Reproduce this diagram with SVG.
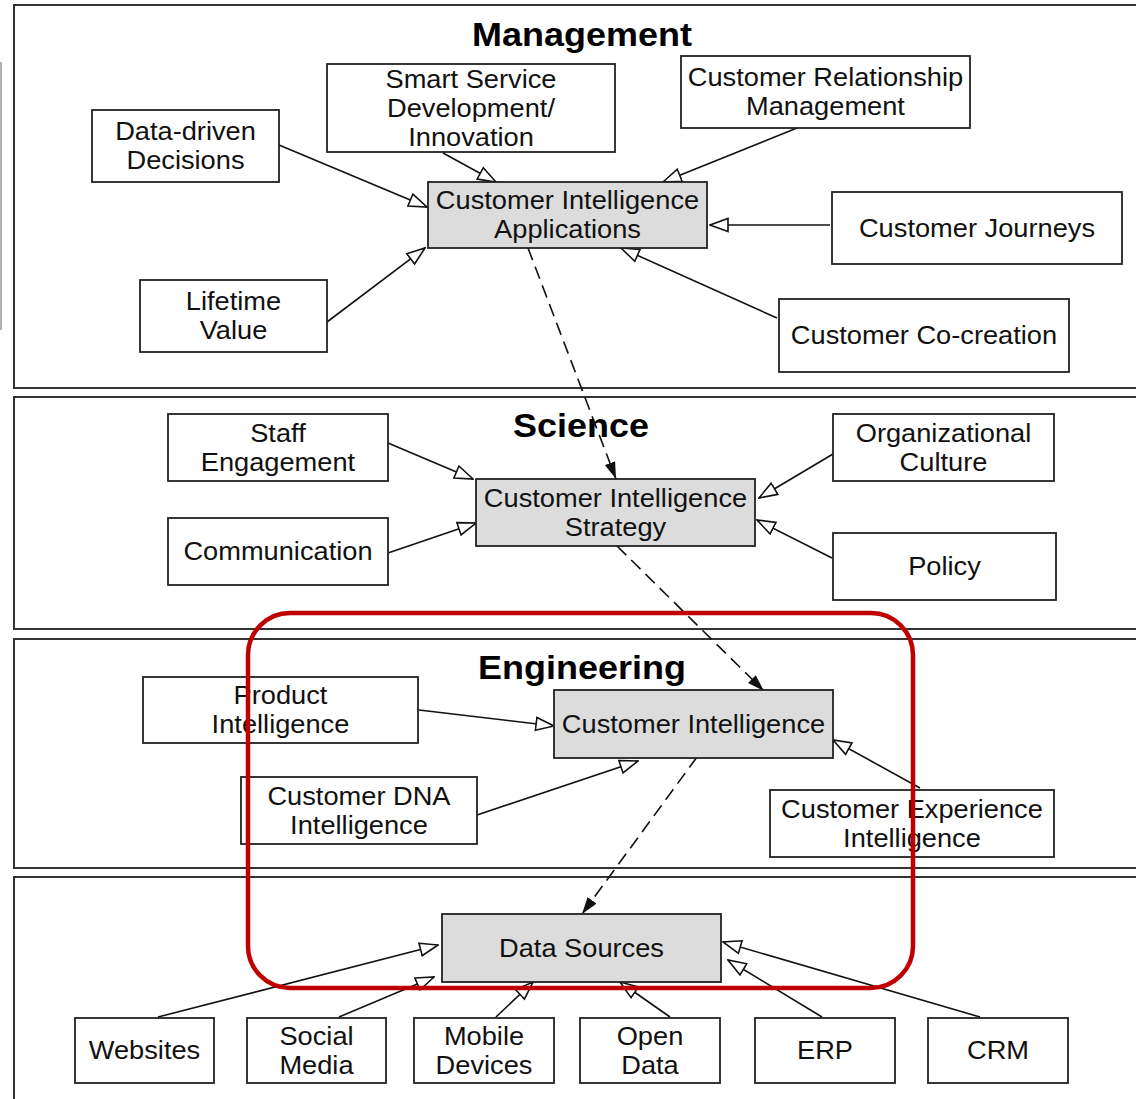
<svg xmlns="http://www.w3.org/2000/svg" width="1136" height="1099" viewBox="0 0 1136 1099">
<defs>
<style>
.panel{fill:#fff;stroke:#333;stroke-width:2}
.box{fill:#fff;stroke:#222;stroke-width:1.8}
.gbox{fill:#dcdcdc;stroke:#222;stroke-width:1.8}
.t{font-family:"Liberation Sans",Arial,Helvetica,sans-serif;font-size:25px;text-anchor:middle;fill:#111;transform-box:fill-box;transform-origin:center;transform:scaleX(1.09)}
.title{font-family:"Liberation Sans",Arial,Helvetica,sans-serif;font-size:33px;font-weight:bold;text-anchor:middle;fill:#000;transform-box:fill-box;transform-origin:center;transform:scaleX(1.09)}
.c{fill:none;stroke:#111;stroke-width:1.6;marker-end:url(#open)}
.d{fill:none;stroke:#111;stroke-width:1.6;stroke-dasharray:13 7;marker-end:url(#filled)}
</style>
<marker id="open" markerUnits="userSpaceOnUse" viewBox="0 0 20 16" refX="19" refY="8" markerWidth="20" markerHeight="16" orient="auto">
<path d="M1,1.5 L19,8 L1,14.5 Z" fill="#fff" stroke="#111" stroke-width="1.6"/>
</marker>
<marker id="filled" markerUnits="userSpaceOnUse" viewBox="0 0 18 12" refX="17" refY="6" markerWidth="18" markerHeight="12" orient="auto">
<path d="M0,0.5 L17,6 L0,11.5 Z" fill="#111"/>
</marker>
</defs>
<rect width="1136" height="1099" fill="#fff"/>
<line x1="1" y1="62" x2="1" y2="330" stroke="#999" stroke-width="1.5"/>
<g id="panels">
<rect class="panel" x="14" y="5" width="1140" height="383"/>
<rect class="panel" x="14" y="397" width="1140" height="232"/>
<rect class="panel" x="14" y="639" width="1140" height="229"/>
<rect class="panel" x="14" y="877" width="1140" height="240"/>
<text class="title" x="582" y="46">Management</text>
<text class="title" x="581" y="437">Science</text>
<text class="title" x="582" y="679">Engineering</text>
</g>
<g id="connectors">
<line class="c" x1="279" y1="145" x2="427" y2="207"/>
<line class="c" x1="443" y1="153" x2="496" y2="182"/>
<line class="c" x1="797" y1="128" x2="663" y2="182"/>
<line class="c" x1="830" y1="225" x2="710" y2="225"/>
<line class="c" x1="777" y1="318" x2="621" y2="248"/>
<line class="c" x1="327" y1="322" x2="425" y2="248"/>
<line class="d" x1="528" y1="248" x2="616" y2="479"/>
<line class="c" x1="388" y1="443" x2="473" y2="479"/>
<line class="c" x1="388" y1="553" x2="476" y2="523"/>
<line class="c" x1="833" y1="454" x2="759" y2="498"/>
<line class="c" x1="832" y1="558" x2="757" y2="520"/>
<line class="d" x1="617" y1="546" x2="764" y2="691"/>
<line class="c" x1="419" y1="710" x2="554" y2="726"/>
<line class="c" x1="477" y1="815" x2="638" y2="761"/>
<line class="c" x1="920" y1="788" x2="833" y2="740"/>
<line class="d" x1="697" y1="757" x2="582" y2="914"/>
<line class="c" x1="158" y1="1017" x2="438" y2="945"/>
<line class="c" x1="339" y1="1017" x2="434" y2="977"/>
<line class="c" x1="496" y1="1017" x2="533" y2="982"/>
<line class="c" x1="670" y1="1017" x2="620" y2="982"/>
<line class="c" x1="822" y1="1017" x2="728" y2="960"/>
<line class="c" x1="980" y1="1017" x2="723" y2="942"/>
</g>
<g id="n-datadriven"><rect class="box" x="92" y="110" width="187" height="72"/><text class="t" x="185.5" y="140.5">Data-driven</text><text class="t" x="185.5" y="169.5">Decisions</text></g>
<g id="n-smart"><rect class="box" x="327" y="64" width="288" height="88"/><text class="t" x="471" y="88">Smart Service</text><text class="t" x="471" y="117">Development/</text><text class="t" x="471" y="146">Innovation</text></g>
<g id="n-crm-mgmt"><rect class="box" x="681" y="56" width="289" height="72"/><text class="t" x="825.5" y="86.5">Customer Relationship</text><text class="t" x="825.5" y="115.5">Management</text></g>
<g id="n-cia"><rect class="gbox" x="428" y="182" width="279" height="66"/><text class="t" x="567.5" y="209.5">Customer Intelligence</text><text class="t" x="567.5" y="238.5">Applications</text></g>
<g id="n-journeys"><rect class="box" x="832" y="192" width="290" height="72"/><text class="t" x="977" y="237">Customer Journeys</text></g>
<g id="n-lifetime"><rect class="box" x="140" y="280" width="187" height="72"/><text class="t" x="233.5" y="310.5">Lifetime</text><text class="t" x="233.5" y="339.5">Value</text></g>
<g id="n-cocreation"><rect class="box" x="779" y="299" width="290" height="73"/><text class="t" x="924" y="344.5">Customer Co-creation</text></g>
<g id="n-staff"><rect class="box" x="168" y="414" width="220" height="67"/><text class="t" x="278" y="442">Staff</text><text class="t" x="278" y="471">Engagement</text></g>
<g id="n-comm"><rect class="box" x="168" y="518" width="220" height="67"/><text class="t" x="278" y="560.5">Communication</text></g>
<g id="n-cis"><rect class="gbox" x="476" y="479" width="279" height="67"/><text class="t" x="615.5" y="507">Customer Intelligence</text><text class="t" x="615.5" y="536">Strategy</text></g>
<g id="n-org"><rect class="box" x="833" y="414" width="221" height="67"/><text class="t" x="943.5" y="442">Organizational</text><text class="t" x="943.5" y="471">Culture</text></g>
<g id="n-policy"><rect class="box" x="833" y="533" width="223" height="67"/><text class="t" x="944.5" y="575.5">Policy</text></g>
<g id="n-product"><rect class="box" x="143" y="677" width="275" height="66"/><text class="t" x="280.5" y="704.5">Product</text><text class="t" x="280.5" y="733.5">Intelligence</text></g>
<g id="n-ci"><rect class="gbox" x="554" y="690" width="279" height="68"/><text class="t" x="693.5" y="733">Customer Intelligence</text></g>
<g id="n-dna"><rect class="box" x="241" y="777" width="236" height="67"/><text class="t" x="359" y="805">Customer DNA</text><text class="t" x="359" y="834">Intelligence</text></g>
<g id="n-cxi"><rect class="box" x="770" y="790" width="284" height="67"/><text class="t" x="912" y="818">Customer Experience</text><text class="t" x="912" y="847">Intelligence</text></g>
<g id="n-datasources"><rect class="gbox" x="442" y="914" width="279" height="68"/><text class="t" x="581.5" y="957">Data Sources</text></g>
<g id="n-websites"><rect class="box" x="75" y="1018" width="139" height="65"/><text class="t" x="144.5" y="1059.5">Websites</text></g>
<g id="n-social"><rect class="box" x="247" y="1018" width="139" height="65"/><text class="t" x="316.5" y="1045">Social</text><text class="t" x="316.5" y="1074">Media</text></g>
<g id="n-mobile"><rect class="box" x="414" y="1018" width="140" height="65"/><text class="t" x="484" y="1045">Mobile</text><text class="t" x="484" y="1074">Devices</text></g>
<g id="n-open"><rect class="box" x="580" y="1018" width="140" height="65"/><text class="t" x="650" y="1045">Open</text><text class="t" x="650" y="1074">Data</text></g>
<g id="n-erp"><rect class="box" x="755" y="1018" width="140" height="65"/><text class="t" x="825" y="1059.5">ERP</text></g>
<g id="n-crm"><rect class="box" x="928" y="1018" width="140" height="65"/><text class="t" x="998" y="1059.5">CRM</text></g>
<g id="highlight"><rect x="248" y="613" width="665" height="375" rx="42" ry="42" fill="none" stroke="#c00000" stroke-width="4.5"/></g>
</svg>
